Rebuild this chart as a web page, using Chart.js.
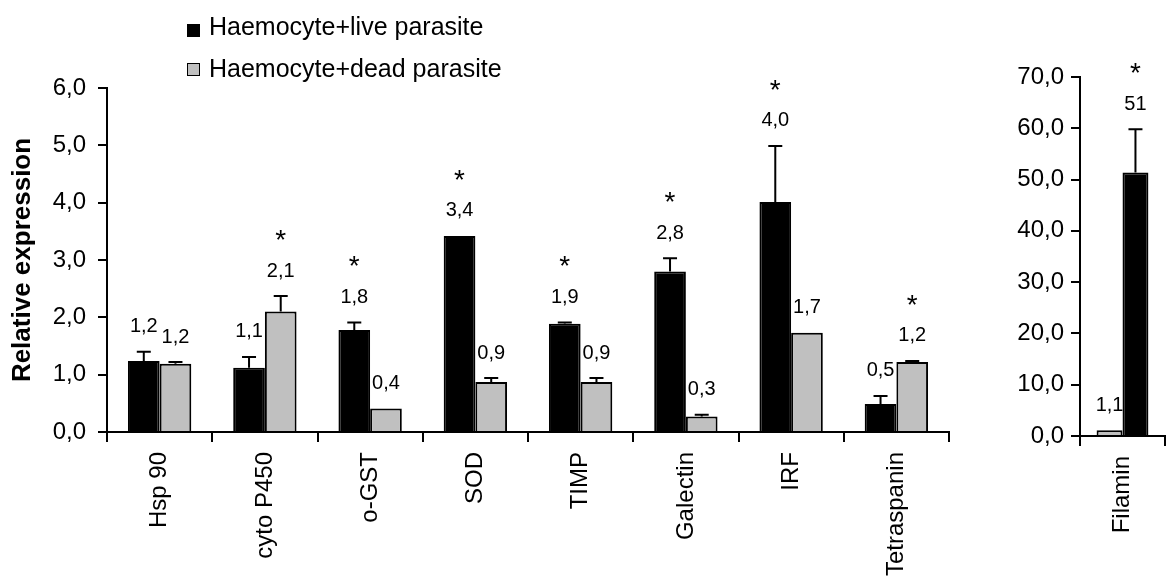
<!DOCTYPE html>
<html><head><meta charset="utf-8">
<script src="https://cdn.jsdelivr.net/npm/chart.js@4"></script>
<style>
body{margin:0;background:#fff;width:1171px;height:586px;overflow:hidden;position:relative;font-family:'Liberation Sans',Arial,sans-serif}
#c1{position:absolute;left:0;top:0}
#c2{position:absolute;left:960px;top:0}
.lg{position:absolute;left:209px;font-size:25px;line-height:25px;white-space:nowrap;color:#000}
.sw{position:absolute;left:187px;width:11px;height:11px;border:1.5px solid #000}
</style></head>
<body>
<canvas id="c1" width="960" height="586"></canvas>
<canvas id="c2" width="211" height="586"></canvas>
<div id="legend"></div>
<script>
// ---- data ----
const categories = ['Hsp 90','cyto P450','o-GST','SOD','TIMP','Galectin','IRF','Tetraspanin'];
const seriesNames = ['Haemocyte+live parasite','Haemocyte+dead parasite'];
const liveValues = [1.24, 1.12, 1.78, 3.42, 1.89, 2.80, 4.01, 0.49];
const liveErrors = [0.16, 0.19, 0.13, 0.00, 0.02, 0.23, 0.98, 0.14];
const liveSignificant = [false, false, true, true, true, true, true, false];
const deadValues = [1.19, 2.10, 0.41, 0.87, 0.87, 0.27, 1.73, 1.22];
const deadErrors = [0.03, 0.27, 0.00, 0.07, 0.07, 0.03, 0.00, 0.02];
const deadSignificant = [false, true, false, false, false, false, false, true];
const mainTicks = [0, 1, 2, 3, 4, 5, 6];

const filaminCategories = ['Filamin'];
const filaminLive = [51.4];
const filaminLiveErrors = [8.4];
const filaminLiveSignificant = [true];
const filaminDead = [1.1];
const filaminDeadErrors = [0];
const filaminDeadSignificant = [false];
const filaminTicks = [0, 10, 20, 30, 40, 50, 60, 70];

const yTitle = 'Relative expression';
const colLive = '#000000';
const colDead = '#C0C0C0';

// ---- helpers ----
const FONT = "'Liberation Sans', Arial, sans-serif";
Chart.defaults.font.family = FONT;
Chart.defaults.color = '#000';

const fmtTick = v => Number(v).toFixed(1).replace('.', ',');
const fmtVal = v => v >= 10 ? String(Math.round(v)) : v.toFixed(1).replace('.', ',');

const annotPlugin = {
  id: 'annot',
  afterDatasetsDraw(chart) {
    const ctx = chart.ctx, ys = chart.scales.y;
    chart.data.datasets.forEach((ds, di) => {
      const meta = chart.getDatasetMeta(di);
      meta.data.forEach((bar, i) => {
        const v = ds.data[i], e = ds.err[i];
        const top = ys.getPixelForValue(v + e);
        ctx.save();
        ctx.strokeStyle = '#000'; ctx.lineWidth = 2;
        if (e > 0) {
          ctx.beginPath();
          ctx.moveTo(bar.x, bar.y); ctx.lineTo(bar.x, top);
          ctx.moveTo(bar.x - 7, top); ctx.lineTo(bar.x + 7, top);
          ctx.stroke();
        }
        ctx.fillStyle = '#000';
        ctx.font = '20px ' + FONT;
        ctx.textAlign = 'center'; ctx.textBaseline = 'middle';
        const ly = top - 25;
        ctx.fillText(fmtVal(v), bar.x, ly);
        if (ds.sig[i]) {
          ctx.font = '28px ' + FONT;
          ctx.textBaseline = 'alphabetic';
          ctx.fillText('*', bar.x, ly - 38 + 16);
        }
        ctx.restore();
      });
    });
  }
};

function makeChart(canvasId, labels, datasets, ticksArr, padding, yWidth, xHeight, tickPad, titleOn, catPct) {
  return new Chart(document.getElementById(canvasId), {
    type: 'bar',
    data: { labels, datasets },
    options: {
      responsive: false, animation: false, devicePixelRatio: 1,
      layout: { padding },
      plugins: { legend: { display: false }, tooltip: { enabled: false } },
      datasets: { bar: { categoryPercentage: catPct, barPercentage: 1.0, borderWidth: 2, borderColor: '#000', borderSkipped: 'start' } },
      scales: {
        x: {
          grid: { offset: true, drawOnChartArea: false, tickLength: 10, color: '#000', lineWidth: 2 },
          border: { color: '#000', width: 2 },
          ticks: { maxRotation: 90, minRotation: 90, padding: 10, font: { size: 24 }, color: '#000', autoSkip: false },
          afterFit: s => { s.height = xHeight; }
        },
        y: {
          min: ticksArr[0], max: ticksArr[ticksArr.length - 1],
          afterBuildTicks: s => { s.ticks = ticksArr.map(v => ({ value: v })); },
          grid: { drawOnChartArea: false, tickLength: 9, color: '#000', lineWidth: 2 },
          border: { color: '#000', width: 2 },
          ticks: { padding: tickPad, font: { size: 24 }, color: '#000', callback: v => fmtTick(v) },
          title: titleOn ? { display: true, text: yTitle, font: { size: 26, weight: 'bold' }, color: '#000', padding: { top: 7, bottom: 0 } } : { display: false },
          afterFit: s => { s.width = yWidth; }
        }
      }
    },
    plugins: [annotPlugin]
  });
}

makeChart('c1', categories, [
  { label: seriesNames[0], data: liveValues, err: liveErrors, sig: liveSignificant, backgroundColor: colLive },
  { label: seriesNames[1], data: deadValues, err: deadErrors, sig: deadSignificant, backgroundColor: colDead }
], mainTicks, { top: 88, right: 11, bottom: 0, left: 0 }, 107, 154, 12, true, 0.602);

makeChart('c2', filaminCategories, [
  { label: seriesNames[1], data: filaminDead, err: filaminDeadErrors, sig: filaminDeadSignificant, backgroundColor: colDead },
  { label: seriesNames[0], data: filaminLive, err: filaminLiveErrors, sig: filaminLiveSignificant, backgroundColor: colLive }
], filaminTicks, { top: 77, right: 6, bottom: 0, left: 0 }, 120, 150, 7, false, 0.61);

// ---- legend ----
const lg = document.getElementById('legend');
[[colLive, 24, 14], [colDead, 63, 56]].forEach((c, i) => {
  const sw = document.createElement('div');
  sw.className = 'sw'; sw.style.top = c[1] + 'px'; sw.style.background = c[0];
  lg.appendChild(sw);
  const t = document.createElement('div');
  t.className = 'lg'; t.style.top = c[2] + 'px'; t.textContent = seriesNames[i];
  lg.appendChild(t);
});
</script>
</body></html>
